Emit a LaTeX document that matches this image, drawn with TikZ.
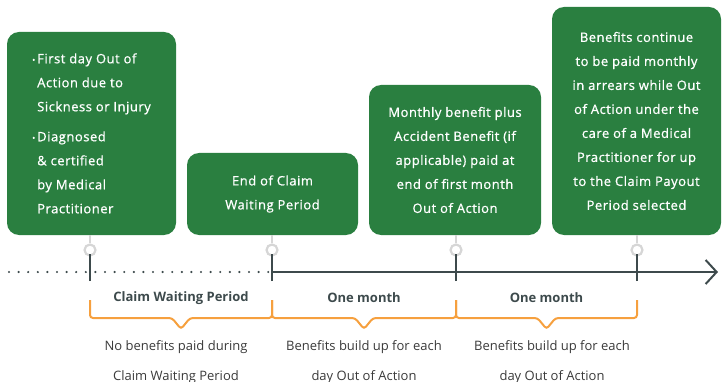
\documentclass[tikz,border=0pt]{standalone}
\usepackage{fontspec}
\setmainfont{Open Sans}
\newfontfamily\boxfont[UprightFeatures={FakeBold=0.8}, LetterSpace=4]{Open Sans}
\usetikzlibrary{arrows.meta}
\definecolor{boxgreen}{HTML}{2A7F40}
\definecolor{axisgray}{HTML}{3D4A4C}
\definecolor{ringgray}{HTML}{D6D6D6}
\definecolor{braceor}{HTML}{F6A03E}
\definecolor{txtgray}{HTML}{3A3A3A}
\tikzset{
  greenbox/.style={fill=boxgreen, rounded corners=12pt, text=white, align=center,
    font=\boxfont\fontsize{13}{24}\selectfont, inner sep=0pt},
  ring/.style={circle, draw=ringgray, line width=2.2pt, fill=white, minimum size=11pt, inner sep=0pt},
  stem/.style={draw=ringgray, line width=2pt},
  tickmark/.style={draw=axisgray, line width=2.4pt},
  axisline/.style={draw=axisgray, line width=2pt},
  dotline/.style={draw=axisgray, line width=2.4pt, line cap=round, dash pattern=on 0pt off 9.6pt},
  bracepath/.style={draw=braceor, line width=2pt, rounded corners=3pt},
  periodlabel/.style={font=\fontsize{13}{14}\selectfont\bfseries, text=axisgray},
  notelabel/.style={font=\fontsize{13}{30}\selectfont, text=txtgray, align=center},
}
\begin{document}
\begin{tikzpicture}[x=1pt,y=-1pt]
\useasboundingbox (0,0) rectangle (722,382);
% boxes
\node[greenbox, minimum width=169pt, minimum height=203pt] (b1) at (91.5,133.5) {%
  \begin{tabular}{@{}l@{\hspace{2pt}}l@{}}
  \raisebox{0.5pt}{\footnotesize\textbullet} & First day Out of\\
  & Action due to\\
  & Sickness or Injury\\[6pt]
  \raisebox{0.5pt}{\footnotesize\textbullet} & Diagnosed\\
  & \& certified\\
  & by Medical\\
  & Practitioner
  \end{tabular}};
\node[greenbox, minimum width=171pt, minimum height=82pt] (b2) at (272.5,194) {End of Claim\\Waiting Period};
\node[greenbox, minimum width=172pt, minimum height=150pt] (b3) at (455,160) {Monthly benefit plus\\Accident Benefit (if\\applicable) paid at\\end of first month\\Out of Action};
\node[greenbox, minimum width=169pt, minimum height=228pt] (b4) at (636.5,121) {Benefits continue\\to be paid monthly\\in arrears while Out\\of Action under the\\care of a Medical\\Practitioner for up\\to the Claim Payout\\Period selected};
% timeline
\coordinate (start) at (9,272);
\coordinate (t1) at (90,272);
\coordinate (t2) at (272,272);
\coordinate (t3) at (456,272);
\coordinate (t4) at (637,272);
\coordinate (tip) at (718,272);
\draw[dotline] (start) -- (t2);
\draw[axisline, -{Straight Barb[length=11pt,width=24pt,line width=2pt]}] (t2) -- (tip);
% rings and stems
\foreach \i/\x in {1/90,2/272,3/456,4/637}{
  \node[ring] (c\i) at (\x,250) {};
  \draw[stem] (\x,235) -- (c\i.north);
  \draw[tickmark] ([yshift=-9pt]t\i) -- ([yshift=18pt]t\i);
}
% period labels
\node[periodlabel] (p1) at (181,298) {Claim Waiting Period};
\node[periodlabel] (p2) at (364,298) {One month};
\node[periodlabel] (p3) at (546.5,298) {One month};
% braces
\foreach \a/\b in {90/272,272/456,456/637}{
  \pgfmathsetmacro{\m}{(\a+\b)/2}
  \draw[bracepath] (\a,300) -- (\a,318) -- (\m-9,318) -- (\m,329) -- (\m+9,318) -- (\b,318) -- (\b,300);
}
% notes
\node[notelabel] (n1) at (176,362) {No benefits paid during\\Claim Waiting Period};
\node[notelabel] (n2) at (364,362) {Benefits build up for each\\day Out of Action};
\node[notelabel] (n3) at (552,362) {Benefits build up for each\\day Out of Action};
\end{tikzpicture}
\end{document}
